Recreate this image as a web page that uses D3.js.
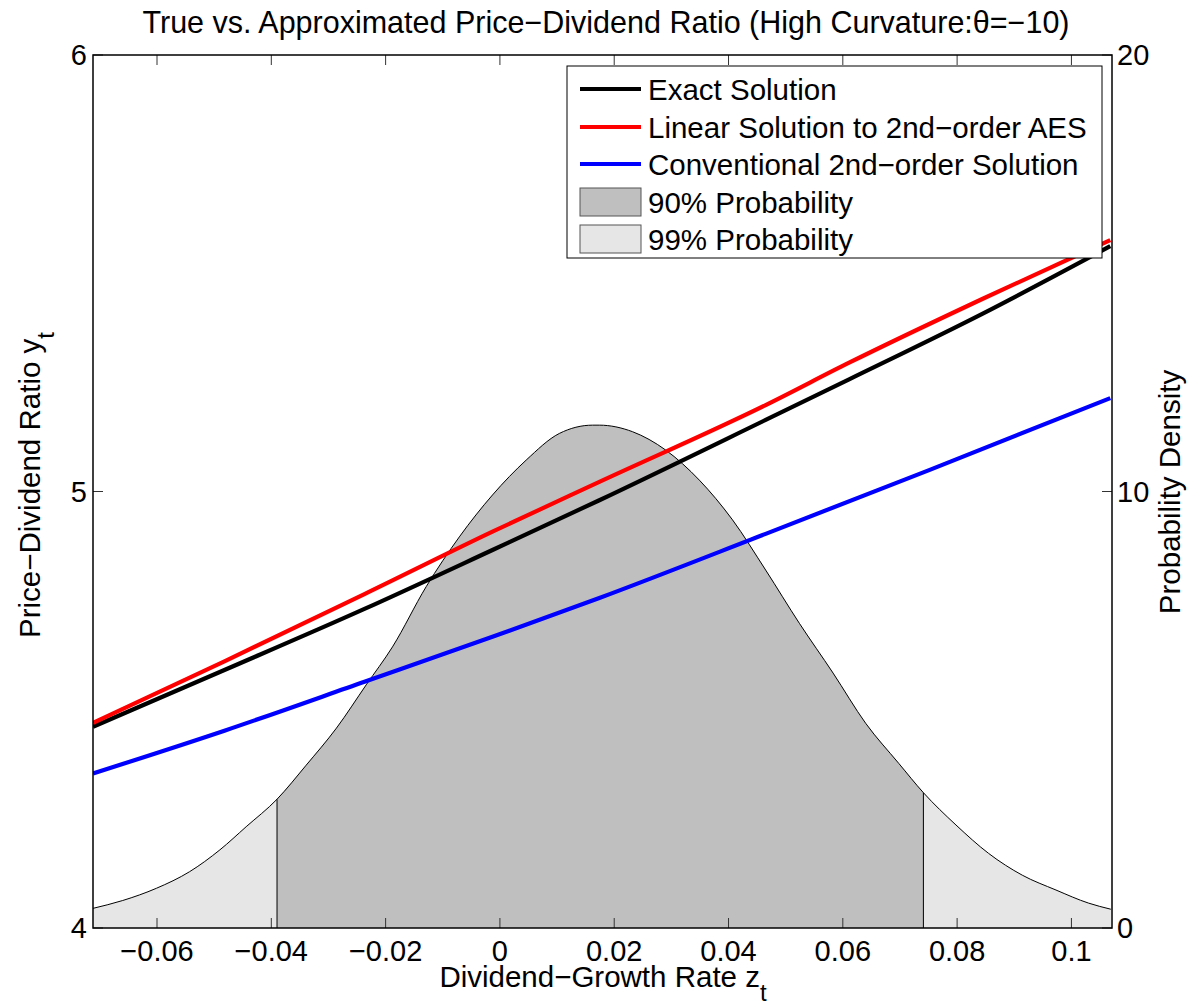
<!DOCTYPE html>
<html><head><meta charset="utf-8">
<script src="https://cdn.jsdelivr.net/npm/d3@7/dist/d3.min.js"></script>
<style>body{margin:0;background:#fff}text{font-family:"Liberation Sans",Arial,sans-serif;fill:#000}</style>
</head><body><svg id="c" width="1187" height="1007"></svg>
<script>
// ---- data ----
const xTicks = [-0.06,-0.04,-0.02,0,0.02,0.04,0.06,0.08,0.1];
const xTickLabels = ["\u22120.06","\u22120.04","\u22120.02","0","0.02","0.04","0.06","0.08","0.1"];
const yLeftTicks = [4,5,6];
const yRightTicks = [0,10,20];

const densZ = [-0.0712,-0.0660,-0.0601,-0.0543,-0.0490,-0.0444,-0.0390,-0.0339,-0.0286,-0.0234,-0.0188,-0.0129,-0.0071,-0.0013,0.0046,0.0104,0.0162,0.0174,0.0232,0.0290,0.0349,0.0407,0.0465,0.0524,0.0583,0.0640,0.0698,0.0741,0.0798,0.0855,0.0914,0.0973,0.1030,0.1069];
const densVal = [0.45,0.63,0.91,1.29,1.79,2.32,2.95,3.73,4.58,5.57,6.44,7.82,8.96,9.92,10.72,11.33,11.52,11.52,11.37,10.95,10.26,9.35,8.20,6.98,5.84,4.69,3.77,3.10,2.36,1.71,1.21,0.87,0.57,0.43];
const band90 = [-0.0390, 0.0741];

const lineZ = [-0.0712,-0.0482,-0.0237,-0.0013,0.0174,0.0465,0.0611,0.0844,0.1068];
const exactVals  = [4.461,4.591,4.731,4.866,4.980,5.164,5.257,5.407,5.562];
const linearVals = [4.470,4.611,4.765,4.908,5.022,5.198,5.295,5.441,5.576];
const convZ = [-0.0712,-0.0482,-0.0237,-0.0013,0.0174,0.0465,0.0751,0.1068];
const convVals = [4.354,4.452,4.564,4.667,4.756,4.903,5.049,5.214];

const legendLabels = ["Exact Solution","Linear Solution to 2nd\u2212order AES","Conventional 2nd\u2212order Solution","90% Probability","99% Probability"];
const seriesColors = ["#000000","#ff0000","#0000ff"];

// ---- layout ----
const L=93, R=1112, T=55, B=928;
const svg = d3.select("#c");
const x = d3.scaleLinear().domain([-0.0712,0.1071]).range([L,R]);
const yL = d3.scaleLinear().domain([4,6]).range([B,T]);
const yR = d3.scaleLinear().domain([0,20]).range([B,T]);

svg.append("defs").append("clipPath").attr("id","clip")
  .append("rect").attr("x",L).attr("y",T).attr("width",R-L).attr("height",B-T);
const g = svg.append("g").attr("clip-path","url(#clip)");

const dens = densZ.map((z,i)=>({z, d:densVal[i]}));
const area = d3.area().curve(d3.curveMonotoneX).x(p=>x(p.z)).y0(yR(0)).y1(p=>yR(p.d));
g.append("path").datum(dens).attr("d",area).attr("fill","#e6e6e6");
const inner = dens.filter(p=>p.z>=band90[0]-1e-9 && p.z<=band90[1]+1e-9);
g.append("path").datum(inner).attr("d",area).attr("fill","#bfbfbf");
g.append("path").datum(dens).attr("d",d3.line().curve(d3.curveMonotoneX).x(p=>x(p.z)).y(p=>yR(p.d)))
  .attr("fill","none").attr("stroke","#000").attr("stroke-width",1);
[inner[0], inner[inner.length-1]].forEach(p=>{
  g.append("line").attr("x1",x(p.z)).attr("x2",x(p.z)).attr("y1",yR(0)).attr("y2",yR(p.d))
    .attr("stroke","#000").attr("stroke-width",1);
});

const ln = d3.line().curve(d3.curveMonotoneX).x(p=>x(p[0])).y(p=>yL(p[1]));
[[lineZ,exactVals],[lineZ,linearVals],[convZ,convVals]].forEach((s,i)=>{
  g.append("path").datum(s[0].map((z,k)=>[z,s[1][k]])).attr("d",ln)
    .attr("fill","none").attr("stroke",seriesColors[i]).attr("stroke-width",4.2);
});

// ---- axes ----
const fs = 29;
const ax = svg.append("g");
xTicks.forEach((t,i)=>{
  ax.append("line").attr("x1",x(t)).attr("x2",x(t)).attr("y1",B).attr("y2",B-10).attr("stroke","#333");
  ax.append("line").attr("x1",x(t)).attr("x2",x(t)).attr("y1",T).attr("y2",T+10).attr("stroke","#333");
  ax.append("text").attr("x",x(t)).attr("y",961).attr("text-anchor","middle").attr("font-size",fs).text(xTickLabels[i]);
});
yLeftTicks.forEach(t=>{
  ax.append("line").attr("x1",L).attr("x2",L+10).attr("y1",yL(t)).attr("y2",yL(t)).attr("stroke","#333");
  ax.append("text").attr("x",87).attr("y",yL(t)).attr("dy","0.35em").attr("text-anchor","end").attr("font-size",fs).text(t);
});
yRightTicks.forEach(t=>{
  ax.append("line").attr("x1",R).attr("x2",R-10).attr("y1",yR(t)).attr("y2",yR(t)).attr("stroke","#333");
  ax.append("text").attr("x",1117).attr("y",yR(t)).attr("dy","0.35em").attr("text-anchor","start").attr("font-size",fs).text(t);
});
ax.append("rect").attr("x",L).attr("y",T).attr("width",R-L).attr("height",B-T)
  .attr("fill","none").attr("stroke","#000").attr("stroke-width",1.5);

// ---- labels ----
svg.append("text").attr("x",606).attr("y",33).attr("text-anchor","middle").attr("font-size",30.5)
  .text("True vs. Approximated Price\u2212Dividend Ratio (High Curvature:\u03b8=\u221210)");
const xl = svg.append("text").attr("x",603).attr("y",987).attr("text-anchor","middle").attr("font-size",29.5);
xl.append("tspan").text("Dividend\u2212Growth Rate z");
xl.append("tspan").attr("dy",14).attr("font-size",24).text("t");
const yl = svg.append("text").attr("transform","translate(40,485) rotate(-90)").attr("text-anchor","middle").attr("font-size",29.5);
yl.append("tspan").text("Price\u2212Dividend Ratio y");
yl.append("tspan").attr("dy",14).attr("font-size",24).text("t");
svg.append("text").attr("transform","translate(1180,492) rotate(-90)").attr("text-anchor","middle").attr("font-size",29.5)
  .text("Probability Density");

// ---- legend ----
const lg = svg.append("g");
lg.append("rect").attr("x",567).attr("y",66).attr("width",535).attr("height",192).attr("fill","#fff").attr("stroke","#000").attr("stroke-width",1);
const rows = [89,127,164,202,239];
legendLabels.forEach((lab,i)=>{
  const cy = rows[i];
  if(i<3){
    lg.append("line").attr("x1",580).attr("x2",641).attr("y1",cy).attr("y2",cy).attr("stroke",seriesColors[i]).attr("stroke-width",4.2);
  } else {
    lg.append("rect").attr("x",580).attr("y",cy-14).attr("width",61).attr("height",28)
      .attr("fill", i===3?"#bfbfbf":"#e6e6e6").attr("stroke","#555").attr("stroke-width",1);
  }
  lg.append("text").attr("x",648).attr("y",cy).attr("dy","0.36em").attr("font-size",29.5).text(lab);
});
</script></body></html>
